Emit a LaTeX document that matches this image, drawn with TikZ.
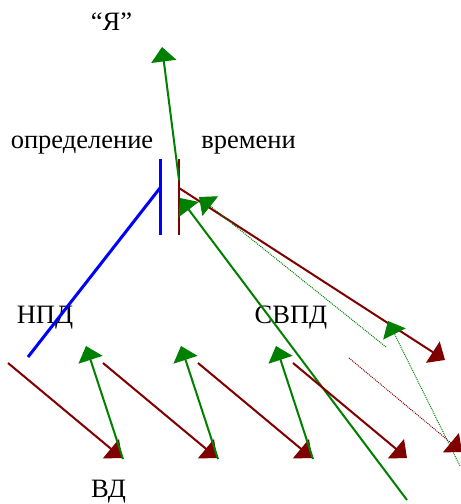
\documentclass[tikz,border=0pt]{standalone}
\usepackage{fontspec}
\setmainfont{Liberation Serif}
\usetikzlibrary{arrows.meta}

\definecolor{darkred}{RGB}{128,0,0}
\definecolor{darkgreen}{RGB}{0,128,0}

\begin{document}
\begin{tikzpicture}[x=1pt,y=-1pt,
    lbl/.style={font=\fontsize{26.5}{30}\selectfont, inner sep=0pt, anchor=base},
    redline/.style={draw=darkred, line width=2pt},
    greenline/.style={draw=darkgreen, line width=2pt},
    dotline/.style={densely dotted, line width=1pt},
    bigtip/.style={-{Triangle[length=14.5pt,width=25pt]}}
]

\useasboundingbox (0,0) rectangle (461,504);

% Labels
\node[lbl] (ya) at (111.5,30) {``Я''};
\node[lbl] (opr) at (82,148) {определение};
\node[lbl] (vrem) at (248.5,148) {времени};
\node[lbl] (npd) at (45,323) {НПД};
\node[lbl] (svpd) at (291,323) {СВПД};
\node[lbl] (vd) at (108.5,497) {ВД};

% Moment of time
\coordinate (btop) at (160,159);
\coordinate (bbot) at (160,235);
\coordinate (bmid) at (160,188);
\coordinate (bend) at (28,357);
\coordinate (rtop) at (179,159);
\coordinate (rbot) at (179,235);
\coordinate (rup) at (179,180);
\coordinate (rmid) at (179,188);
\draw[blue, line width=3pt] (btop) -- (bbot);
\draw[blue, line width=3pt] (bmid) -- (bend);
\draw[redline] (rtop) -- (rbot);

% To the "self"
\coordinate (yatip) at (162,47);
\draw[greenline, bigtip] (rup) -- (yatip);

% Long arrows
\coordinate (rlong) at (445,360);
\coordinate (glong) at (407,500);
\coordinate (gltip) at (180,198);
\draw[redline, bigtip] (rmid) -- (rlong);
\draw[greenline, bigtip] (glong) -- (gltip);

% Dotted arrows
\coordinate (gd1) at (386,347);
\coordinate (gd1tip) at (199,197);
\coordinate (gd2) at (460,466);
\coordinate (gd2tip) at (388,321);
\coordinate (rd) at (349,358);
\coordinate (rdtip) at (462,452);
\draw[draw=darkgreen, dotline, bigtip] (gd1) -- (gd1tip);
\draw[draw=darkgreen, dotline, bigtip] (gd2) -- (gd2tip);
\draw[draw=darkred, dotline, bigtip] (rd) -- (rdtip);

% Zigzag
\foreach \i in {0,...,3}
{
  \coordinate (rs\i) at (8+95*\i,363);
  \coordinate (re\i) at (122+95*\i,458);
  \draw[redline, bigtip] (rs\i) -- (re\i);
}
\foreach \i in {0,1,2}
{
  \coordinate (gs\i) at (123+95*\i,459);
  \coordinate (ge\i) at (86+95*\i,346);
  \draw[greenline, bigtip] (gs\i) -- (ge\i);
}

\end{tikzpicture}
\end{document}
